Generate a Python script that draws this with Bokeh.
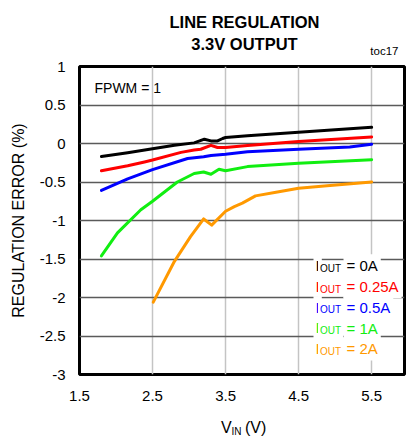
from bokeh.plotting import figure
from bokeh.models import Label, FixedTicker, Range1d
from bokeh.layouts import column
from bokeh.embed import file_html
from bokeh.resources import INLINE

# ---- data ----
vin_0a = [1.8, 2.16, 2.5, 2.8, 3.07, 3.21, 3.30, 3.39, 3.46, 3.5, 3.8, 4.5, 5.5]
err_0a = [-0.17, -0.12, -0.068, -0.022, 0.008, 0.056, 0.034, 0.034, 0.065, 0.078, 0.10, 0.145, 0.21]

vin_025a = [1.8, 2.16, 2.39, 2.5, 2.89, 3.07, 3.16, 3.30, 3.39, 3.5, 3.8, 4.5, 5.5]
err_025a = [-0.355, -0.29, -0.24, -0.215, -0.115, -0.085, -0.075, -0.025, -0.052, -0.052, -0.025, 0.025, 0.085]

vin_05a = [1.8, 2.16, 2.5, 2.98, 3.2, 3.3, 3.5, 3.8, 4.5, 5.2, 5.5]
err_05a = [-0.61, -0.46, -0.34, -0.195, -0.172, -0.155, -0.14, -0.108, -0.075, -0.045, -0.01]

vin_1a = [1.8, 2.02, 2.34, 2.5, 2.84, 3.07, 3.2, 3.3, 3.41, 3.5, 3.8, 4.5, 5.5]
err_1a = [-1.46, -1.16, -0.86, -0.75, -0.50, -0.39, -0.37, -0.40, -0.335, -0.355, -0.30, -0.255, -0.21]

vin_2a = [2.51, 2.8, 3.02, 3.2, 3.31, 3.5, 3.62, 3.73, 3.91, 4.21, 4.5, 4.89, 5.5]
err_2a = [-2.06, -1.53, -1.21, -0.98, -1.06, -0.88, -0.82, -0.775, -0.68, -0.63, -0.58, -0.55, -0.50]

currents = ["0A", "0.25A", "0.5A", "1A", "2A"]
colors = ["#000000", "#ff0000", "#0000ff", "#11ee11", "#ff9900"]

x_ticks = [1.5, 2.5, 3.5, 4.5, 5.5]
x_tick_labels = ["1.5", "2.5", "3.5", "4.5", "5.5"]
y_ticks = [1, 0.5, 0, -0.5, -1, -1.5, -2, -2.5, -3]
y_tick_labels = ["1", "0.5", "0", "-0.5", "-1", "-1.5", "-2", "-2.5", "-3"]

FONT = "Liberation Sans"
W = 410
TOP_H = 57      # title strip
MAIN_H = 353    # chart
BOT_H = 33      # x-axis title strip
FL, FB = 79, 374  # page position of the chart frame's bottom-left corner


def lab(fig, ox, oy, px, py, text, size, color="black", style="normal", align="left", bg=None, pad=1):
    """Place text with its baseline at page pixel (px, py); (ox, oy) = page position of the frame's bottom-left."""
    kw = {}
    if bg is not None:
        kw = dict(background_fill_color=bg, padding=pad)
    fs = float(size.replace("px", ""))
    py_adj = py - 0.42 * fs  # compensate for where the renderer puts the alphabetic baseline
    fig.add_layout(Label(x=px - ox, y=oy - py_adj, x_units="screen", y_units="screen", text=text,
                         text_font=FONT, text_font_size=size, text_color=color,
                         text_font_style=style, text_align=align, text_baseline="alphabetic", **kw))


def strip(h):
    f = figure(width=W, height=h, output_backend="svg", toolbar_location=None,
               x_range=Range1d(0, 1), y_range=Range1d(0, 1),
               min_border_left=0, min_border_right=0, min_border_top=0, min_border_bottom=0)
    f.axis.visible = False
    f.grid.visible = False
    f.outline_line_color = None
    f.background_fill_color = "white"
    f.border_fill_color = "white"
    return f


# ---- title strip (its frame is aligned with the chart frame horizontally) ----
top = strip(TOP_H)
lab(top, FL, TOP_H, 244, 28, "LINE REGULATION", "16.5px", style="bold", align="center")
lab(top, FL, TOP_H, 244, 50, "3.3V OUTPUT", "16.5px", style="bold", align="center")
lab(top, FL, TOP_H, 398, 55, "toc17", "11.5px", align="right")

# ---- main chart ----
p = figure(width=W, height=MAIN_H, output_backend="svg", toolbar_location=None,
           x_range=Range1d(1.5, 5.95), y_range=Range1d(-3, 1),
           min_border_left=FL, min_border_right=6, min_border_top=66 - TOP_H,
           min_border_bottom=TOP_H + MAIN_H - FB)
p.background_fill_color = "white"
p.border_fill_color = "white"
p.outline_line_color = "black"
p.outline_line_width = 3

p.xaxis.ticker = FixedTicker(ticks=x_ticks)
p.yaxis.ticker = FixedTicker(ticks=y_ticks)
p.xaxis.major_label_overrides = {float(t): l for t, l in zip(x_ticks, x_tick_labels)}
p.yaxis.major_label_overrides = {float(t): l for t, l in zip(y_ticks, y_tick_labels)}
for ax in (p.xaxis, p.yaxis):
    ax.axis_line_color = None
    ax.major_tick_line_color = None
    ax.minor_tick_line_color = None
    ax.major_tick_out = 0
    ax.major_tick_in = 0
    ax.major_label_text_font = FONT
    ax.major_label_text_font_size = "15px"
    ax.major_label_text_color = "black"
p.xaxis.major_label_standoff = 16
p.yaxis.major_label_standoff = 14

p.yaxis.axis_label = "REGULATION ERROR (%)"
p.yaxis.axis_label_text_font = FONT
p.yaxis.axis_label_text_font_size = "16px"
p.yaxis.axis_label_text_font_style = "normal"
p.yaxis.axis_label_text_color = "black"
p.yaxis.axis_label_standoff = 10

p.xgrid.grid_line_color = "#c4c4c4"
p.xgrid.grid_line_width = 1.5
p.ygrid.grid_line_color = "#5a5a5a"
p.ygrid.grid_line_width = 1.3

series = [(vin_0a, err_0a), (vin_025a, err_025a), (vin_05a, err_05a), (vin_1a, err_1a), (vin_2a, err_2a)]
for (xs, ys), c in zip(series, colors):
    p.line(xs, ys, line_color=c, line_width=3, line_join="round", line_cap="round")

lab(p, FL, FB, 94, 93, "FPWM = 1", "14px")

# legend (I with subscript OUT)
for i, (cur, c) in enumerate(zip(currents, colors)):
    base = 271.5 + 20.8 * i
    lab(p, FL, FB, 343, base, "= " + cur, "15px", color=c, bg="white", pad=3)
    lab(p, FL, FB, 313, base, "I", "15.5px", color=c, bg="white", pad=2)
    lab(p, FL, FB, 317.5, base + 0.5, "OUT", "10px", color=c, bg="white", pad=2)

# ---- x-axis title strip ----
bot = strip(BOT_H)
BY = TOP_H + MAIN_H + BOT_H
lab(bot, FL, BY, 220.5, 434, "V", "16px")
lab(bot, FL, BY, 231, 435, "IN", "10px")
lab(bot, FL, BY, 244.5, 434, "(V)", "16px")

layout = column(top, p, bot, spacing=0)
open("out.html", "w").write(file_html(layout, INLINE))
